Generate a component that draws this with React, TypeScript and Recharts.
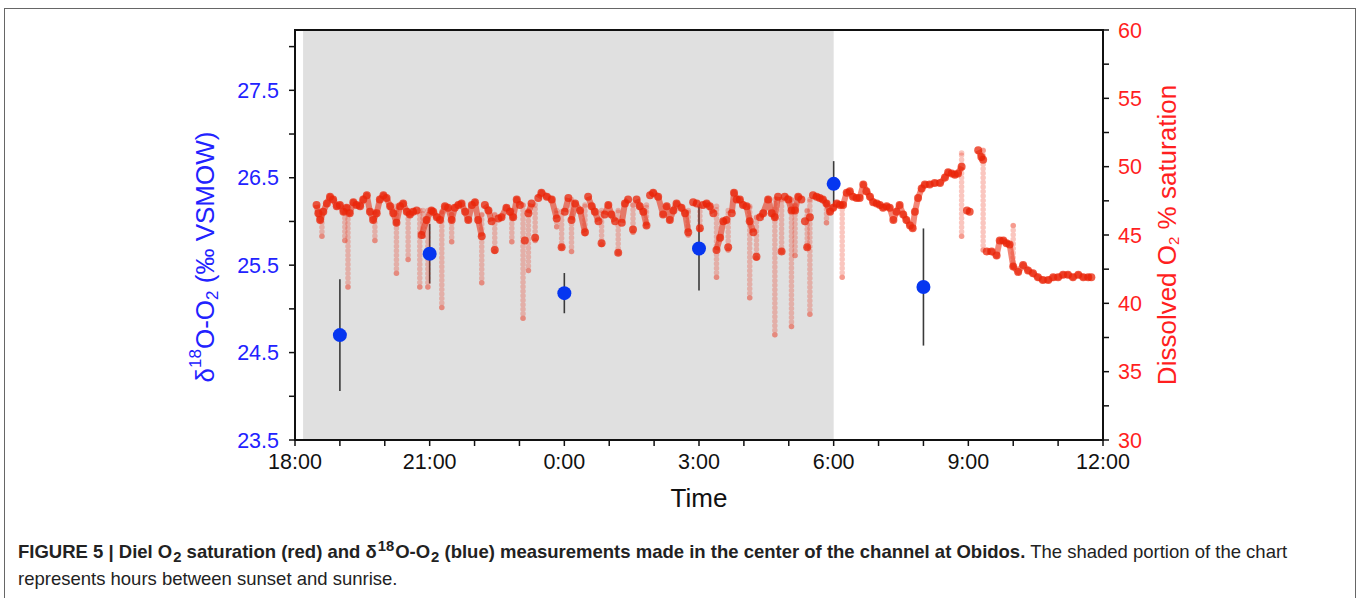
import React from 'react';
import { ComposedChart, Scatter, Line, XAxis, YAxis, ReferenceArea, ErrorBar, Label } from 'recharts';

// δ18O-O2 samples (hours after 18:00, ‰ VSMOW, ± sd)
const blueTimes = [1, 3, 6, 9, 12, 14];
const blueValues = [24.7, 25.63, 25.18, 25.69, 26.43, 25.25];
const blueErrors = [0.64, 0.34, 0.23, 0.48, 0.26, 0.67];

// Dissolved O2 % saturation, night (hours after 18:00, %)
const o2Night: [number, number][] = [
  [0.48, 47.2], [0.52, 46.6], [0.56, 46.1], [0.63, 46.7], [0.71, 47.3], [0.78, 47.8], [0.85, 47.6], [0.93, 47.1],
  [1.0, 47.2], [1.08, 46.7], [1.15, 47.0], [1.22, 46.6], [1.3, 47.4], [1.37, 47.2], [1.45, 47.1], [1.52, 47.6],
  [1.6, 47.9], [1.67, 46.7], [1.74, 46.1], [1.82, 46.6], [1.89, 47.6], [1.97, 47.9], [2.04, 47.7], [2.12, 47.1],
  [2.19, 46.6], [2.26, 45.9], [2.34, 47.1], [2.41, 47.3], [2.49, 46.7], [2.56, 46.5], [2.63, 46.7], [2.71, 46.8],
  [2.82, 45.0], [2.93, 46.1], [3.04, 46.8], [3.08, 46.7], [3.16, 46.3], [3.23, 46.1], [3.34, 47.1], [3.41, 47.0],
  [3.49, 46.1], [3.56, 47.0], [3.64, 47.2], [3.71, 47.3], [3.79, 46.7], [3.86, 46.1], [3.94, 47.2], [4.01, 47.4],
  [4.08, 46.1], [4.16, 44.9], [4.23, 47.2], [4.31, 46.8], [4.38, 46.0], [4.45, 43.9], [4.53, 46.2], [4.6, 46.3],
  [4.71, 47.0], [4.79, 46.7], [4.86, 46.3], [4.94, 47.6], [5.01, 47.2], [5.12, 44.6], [5.2, 46.6], [5.27, 47.3],
  [5.35, 44.8], [5.42, 47.7], [5.49, 48.1], [5.61, 47.8], [5.72, 47.6], [5.83, 46.2], [5.94, 44.1], [6.01, 46.7],
  [6.09, 47.7], [6.16, 46.1], [6.24, 47.3], [6.35, 46.8], [6.46, 45.2], [6.53, 47.8], [6.61, 47.1], [6.68, 46.7],
  [6.76, 46.0], [6.83, 44.4], [6.9, 46.5], [6.98, 47.2], [7.05, 46.5], [7.13, 46.0], [7.2, 43.7], [7.28, 45.9],
  [7.35, 47.3], [7.42, 47.6], [7.53, 45.4], [7.61, 47.6], [7.68, 47.1], [7.76, 46.7], [7.83, 45.7], [7.91, 47.9],
  [7.98, 48.1], [8.09, 47.8], [8.2, 46.5], [8.28, 47.1], [8.35, 46.1], [8.43, 46.8], [8.5, 47.3], [8.61, 47.0],
  [8.69, 46.6], [8.76, 45.2], [8.87, 47.4], [8.95, 47.3], [9.02, 45.5], [9.09, 47.2], [9.17, 47.3], [9.24, 47.1],
  [9.32, 46.6], [9.39, 43.9], [9.47, 44.8], [9.54, 46.0], [9.61, 46.1], [9.65, 44.1], [9.73, 46.6], [9.78, 48.1],
  [9.84, 47.6], [9.91, 47.6], [9.98, 47.2], [10.06, 47.1], [10.13, 46.0], [10.21, 45.2], [10.28, 43.4], [10.36, 46.3],
  [10.43, 46.6], [10.54, 47.6], [10.62, 46.6], [10.69, 46.3], [10.76, 47.8], [10.84, 43.8], [10.91, 47.8], [10.99, 47.6],
  [11.06, 46.8], [11.14, 46.8], [11.21, 47.8], [11.28, 47.6], [11.36, 46.0], [11.41, 44.1], [11.47, 46.3], [11.54, 47.9],
  [11.62, 47.8], [11.69, 47.7], [11.76, 47.6], [11.84, 47.3], [11.92, 46.7], [11.99, 47.0],
];

// Dissolved O2 % saturation, morning
const o2Day: [number, number][] = [
  [12.07, 47.3], [12.14, 47.2], [12.21, 47.2], [12.29, 48.1], [12.36, 48.2], [12.43, 47.8], [12.51, 47.7], [12.58, 47.7],
  [12.66, 48.7], [12.73, 48.2], [12.81, 47.8], [12.88, 47.4], [12.96, 47.3], [13.03, 47.2], [13.1, 47.0], [13.18, 47.1],
  [13.25, 47.0], [13.33, 46.1], [13.4, 46.7], [13.47, 47.2], [13.55, 46.5], [13.62, 46.1], [13.7, 45.7], [13.76, 45.5],
  [13.81, 46.7], [13.88, 47.7], [13.96, 48.4], [14.03, 48.7], [14.14, 48.7], [14.25, 48.8], [14.37, 48.8], [14.48, 49.2],
  [14.55, 49.6], [14.63, 49.5], [14.7, 49.4], [14.77, 49.5], [14.85, 50.0], [14.97, 46.8], [15.03, 46.7], [15.22, 51.2],
  [15.29, 50.7], [15.33, 50.5], [15.41, 43.8], [15.52, 43.8], [15.63, 43.5], [15.7, 44.6], [15.78, 44.6], [15.85, 44.4],
  [15.92, 44.3], [16.0, 42.7], [16.11, 42.3], [16.22, 42.8], [16.33, 42.4], [16.44, 42.2], [16.55, 41.9], [16.66, 41.7],
  [16.78, 41.7], [16.89, 41.9], [17.0, 41.9], [17.11, 42.1], [17.22, 42.1], [17.33, 41.9], [17.45, 42.1], [17.56, 41.9],
  [17.67, 41.9], [17.74, 41.9],
];

// Short O2 drops: [hours after 18:00, top %, bottom %]
const o2Dips: [number, number, number][] = [
  [0.6, 46.5, 44.9], [1.11, 46.7, 44.6], [1.18, 46.7, 41.2], [1.78, 46.7, 44.6], [2.26, 47.1, 42.2],
  [2.52, 46.8, 43.2], [2.78, 46.8, 41.2], [2.85, 46.8, 44.9], [2.96, 46.8, 41.2], [3.27, 46.7, 39.7],
  [3.49, 46.5, 44.5], [4.16, 46.5, 41.5], [4.45, 46.5, 43.8], [4.83, 46.8, 44.5], [5.08, 47.2, 38.9],
  [5.2, 46.8, 42.4], [5.35, 47.2, 44.6], [5.83, 46.8, 45.6], [5.94, 46.7, 44.1], [6.16, 47.6, 43.8],
  [6.46, 47.2, 45.1], [6.83, 46.8, 44.3], [7.2, 46.8, 43.7], [7.53, 47.2, 45.2], [7.83, 47.2, 45.7],
  [8.76, 46.8, 45.0], [9.02, 47.1, 45.4], [9.39, 47.1, 41.9], [9.65, 46.8, 43.9], [10.13, 47.1, 40.4],
  [10.28, 46.3, 43.3], [10.69, 47.6, 37.7], [10.84, 47.6, 43.8], [11.06, 47.6, 38.3], [11.14, 47.2, 43.5],
  [11.41, 46.8, 44.1], [11.47, 47.6, 39.2], [11.84, 47.3, 45.9], [12.19, 47.2, 41.9], [14.85, 51.0, 44.9],
  [15.33, 51.2, 43.9], [16.0, 45.7, 42.7],
];

const timeTicks = [0, 1, 2, 3, 4, 5, 6, 7, 8, 9, 10, 11, 12, 13, 14, 15, 16, 17, 18];
const timeLabels = ['18:00', '21:00', '0:00', '3:00', '6:00', '9:00', '12:00'];
const deltaTicks = [23.5, 24, 24.5, 25, 25.5, 26, 26.5, 27, 27.5, 28];
const satTicks = [30, 32.5, 35, 37.5, 40, 42.5, 45, 47.5, 50, 52.5, 55, 57.5, 60];
const deltaDomain: [number, number] = [23.5, 28.19];
const satDomain: [number, number] = [30, 60];
const sunset = 0.18;
const sunrise = 12;

const BLUE_TEXT = '#2222ff';
const BLUE_DOT = '#0636f0';
const RED_TEXT = '#ff1f1f';
const RED_DOT = '#ea2408';
const FONT = '"Liberation Sans", Arial, Helvetica, sans-serif';

const blueData = blueTimes.map((t, i) => ({ t, v: blueValues[i], err: blueErrors[i] }));
const o2Points = [...o2Night, ...o2Day];
const o2Data = o2Points.map(([t, v]) => ({ t, v }));
// trace for the line: broken wherever consecutive readings jump sharply
const o2Trace: { t: number; v: number | null }[] = [];
o2Points.forEach(([t, v], i) => {
  if (i > 0 && Math.abs(v - o2Points[i - 1][1]) > 1.6) o2Trace.push({ t: (t + o2Points[i - 1][0]) / 2, v: null });
  o2Trace.push({ t, v });
});
const dipData = o2Dips.map(([t, top, bottom]) => ({ t, v: top, err: [top - bottom, 0] }));

const LeftLabel = (props: any) => {
  const vb = props.viewBox;
  const cx = vb.x - 10;
  const cy = vb.y + 227;
  return (
    <text x={cx} y={cy} transform={`rotate(-90 ${cx} ${cy})`} textAnchor="middle" dominantBaseline="central"
      fill={BLUE_TEXT} fontSize={26} fontFamily={FONT}>
      δ<tspan dy={-10} fontSize={17}>18</tspan><tspan dy={10}>O-O</tspan><tspan dy={7} fontSize={17}>2</tspan><tspan dy={-7}> (‰ VSMOW)</tspan>
    </text>
  );
};

const RightLabel = (props: any) => {
  const vb = props.viewBox;
  const cx = vb.x + 64;
  const cy = vb.y + 205;
  return (
    <text x={cx} y={cy} transform={`rotate(-90 ${cx} ${cy})`} textAnchor="middle" dominantBaseline="central"
      fill={RED_TEXT} fontSize={26} fontFamily={FONT}>
      Dissolved O<tspan dy={6} fontSize={15}>2</tspan><tspan dy={-6}> % saturation</tspan>
    </text>
  );
};

const TimeLabel = (props: any) => {
  const vb = props.viewBox;
  return (
    <text x={vb.x + vb.width / 2} y={vb.y + 67} textAnchor="middle" fill="#111" fontSize={26} fontFamily={FONT}>
      Time
    </text>
  );
};

const BlueDot = (p: any) => <circle cx={p.cx} cy={p.cy} r={7} fill={BLUE_DOT} />;
const RedDot = (p: any) => <circle cx={p.cx} cy={p.cy} r={4} fill={RED_DOT} fillOpacity={0.75} />;
const NoDot = () => <g />;

const subStyle: React.CSSProperties = { fontSize: '0.8em', verticalAlign: '-0.3em', lineHeight: 0, marginLeft: 1 };
const supStyle: React.CSSProperties = { fontSize: '0.8em', verticalAlign: '0.45em', lineHeight: 0, marginLeft: 1, marginRight: 1 };

export default function App() {
  return (
    <div style={{ position: 'absolute', left: 0, top: 0, width: 1358, height: 598, background: '#fff', fontFamily: FONT }}>
      <div style={{ position: 'absolute', left: 4, top: 8, width: 1350, height: 600, borderTop: '1px solid #666', borderLeft: '1px solid #666', borderRight: '1px solid #666' }} />
      <div style={{ position: 'absolute', left: 0, top: 0 }}>
        <ComposedChart width={1358} height={520} margin={{ top: 30, right: 175, bottom: 20, left: 215 }}>
          <XAxis xAxisId="t" type="number" dataKey="t" domain={[0, 18]} ticks={timeTicks} interval={0}
            tickFormatter={(v: number) => (v % 3 === 0 ? timeLabels[v / 3] : '')}
            height={60} tickSize={6} tickMargin={8} allowDataOverflow
            axisLine={{ stroke: '#111', strokeWidth: 2 }} tickLine={{ stroke: '#111', strokeWidth: 1.5 }}
            tick={{ fill: '#111', fontSize: 21.5, fontFamily: FONT }}>
            <Label content={TimeLabel} />
          </XAxis>
          <YAxis yAxisId="left" type="number" domain={deltaDomain} ticks={deltaTicks} interval={0} width={80}
            tickFormatter={(v: number) => (Math.abs(((v - 23.5) % 1)) < 1e-6 ? v.toFixed(1) : '')}
            tickSize={6} tickMargin={10} allowDataOverflow
            axisLine={{ stroke: '#111', strokeWidth: 2 }} tickLine={{ stroke: '#111', strokeWidth: 1.5 }}
            tick={{ fill: BLUE_TEXT, fontSize: 21.5, fontFamily: FONT }}>
            <Label content={LeftLabel} />
          </YAxis>
          <YAxis yAxisId="right" orientation="right" type="number" domain={satDomain} ticks={satTicks} interval={0} width={80}
            tickFormatter={(v: number) => (v % 5 === 0 ? String(v) : '')}
            tickSize={6} tickMargin={9} allowDataOverflow
            axisLine={{ stroke: '#111', strokeWidth: 2 }} tickLine={{ stroke: '#111', strokeWidth: 1.5 }}
            tick={{ fill: RED_TEXT, fontSize: 21.5, fontFamily: FONT }}>
            <Label content={RightLabel} />
          </YAxis>
          <ReferenceArea xAxisId="t" yAxisId="left" x1={sunset} x2={sunrise} y1={deltaDomain[0]} y2={deltaDomain[1]}
            fill="#e0e0e0" fillOpacity={1} stroke="none" />
          <Scatter xAxisId="t" yAxisId="left" data={blueData} dataKey="v" shape={BlueDot} isAnimationActive={false}>
            <ErrorBar dataKey="err" direction="y" width={0} stroke="#3a3a3a" strokeWidth={1.6} />
          </Scatter>
          <Scatter xAxisId="t" yAxisId="right" data={dipData} dataKey="v" shape={NoDot} isAnimationActive={false}>
            <ErrorBar dataKey="err" direction="y" width={0} stroke={RED_DOT} strokeWidth={5.5} strokeOpacity={0.26}
              strokeDasharray="0.01 4.5" strokeLinecap="round" />
          </Scatter>
          <Line xAxisId="t" yAxisId="right" data={o2Trace} dataKey="v" type="linear" dot={false} activeDot={false}
            connectNulls={false} stroke={RED_DOT} strokeWidth={6} strokeOpacity={0.55} strokeLinejoin="round"
            isAnimationActive={false} />
          <Scatter xAxisId="t" yAxisId="right" data={o2Data} dataKey="v" shape={RedDot} isAnimationActive={false} />
          <ReferenceArea xAxisId="t" yAxisId="left" x1={0} x2={18} y1={deltaDomain[0]} y2={deltaDomain[1]}
            fill="none" fillOpacity={0} stroke="#111" strokeWidth={2} />
        </ComposedChart>
      </div>
      <div style={{ position: 'absolute', left: 18, top: 538, width: 1290, fontSize: 18.5, lineHeight: '27px', color: '#222' }}>
        <b>FIGURE 5 | Diel O<span style={subStyle}>2</span> saturation (red) and δ<span style={supStyle}>18</span>O-O<span style={subStyle}>2</span> (blue) measurements made in the center of the channel at Obidos.</b>{' '}
        The shaded portion of the chart represents hours between sunset and sunrise.
      </div>
    </div>
  );
}
